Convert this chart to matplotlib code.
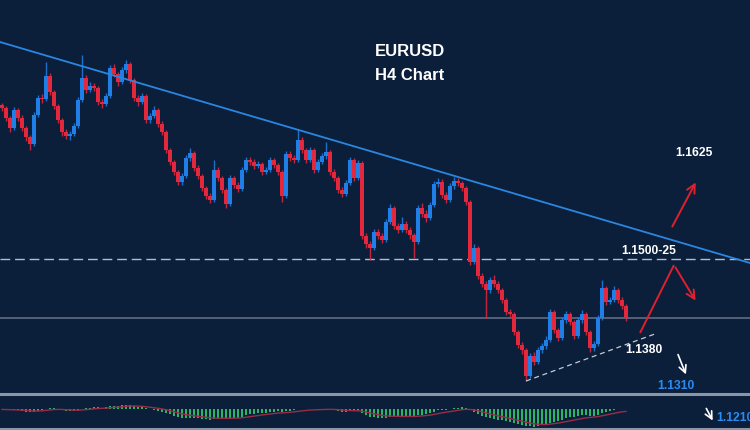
import numpy as np
import pandas as pd
import matplotlib
matplotlib.use("Agg")
import matplotlib.pyplot as plt
from matplotlib.lines import Line2D

# EURUSD H4 candles, prices in pips (x 1e-4)
close_pips = [11802, 11782, 11762, 11798, 11782, 11762, 11744, 11730, 11788, 11822,
              11820, 11866, 11834, 11806, 11778, 11754, 11746, 11750, 11766, 11818,
              11862, 11838, 11846, 11842, 11814, 11810, 11826, 11882, 11870, 11854,
              11878, 11890, 11858, 11822, 11814, 11826, 11778, 11786, 11798, 11770,
              11754, 11718, 11694, 11674, 11654, 11666, 11702, 11712, 11682, 11666,
              11642, 11626, 11618, 11678, 11662, 11638, 11610, 11662, 11648, 11640,
              11678, 11698, 11694, 11686, 11690, 11674, 11678, 11698, 11688, 11674,
              11626, 11710, 11702, 11698, 11738, 11718, 11698, 11718, 11678, 11694,
              11706, 11714, 11674, 11662, 11638, 11630, 11652, 11698, 11662, 11692,
              11546, 11530, 11522, 11554, 11546, 11538, 11574, 11602, 11566, 11558,
              11570, 11558, 11548, 11534, 11602, 11590, 11582, 11608, 11650, 11654,
              11628, 11618, 11646, 11656, 11652, 11642, 11614, 11494, 11522, 11466,
              11450, 11438, 11458, 11450, 11438, 11418, 11394, 11390, 11354, 11328,
              11318, 11266, 11306, 11294, 11318, 11326, 11338, 11394, 11358, 11342,
              11378, 11390, 11374, 11346, 11378, 11390, 11354, 11322, 11330, 11382,
              11442, 11414, 11418, 11438, 11418, 11406, 11382]
high_pips = [11812, 11806, 11786, 11804, 11802, 11788, 11766, 11748, 11794, 11828,
             11830, 11894, 11872, 11838, 11810, 11782, 11760, 11756, 11772, 11824,
             11908, 11868, 11854, 11852, 11846, 11820, 11832, 11888, 11890, 11874,
             11884, 11898, 11894, 11862, 11828, 11832, 11830, 11792, 11806, 11802,
             11776, 11758, 11722, 11698, 11678, 11672, 11708, 11722, 11716, 11688,
             11670, 11646, 11632, 11698, 11684, 11666, 11642, 11668, 11666, 11654,
             11684, 11704, 11704, 11700, 11696, 11694, 11684, 11704, 11702, 11692,
             11678, 11716, 11716, 11708, 11758, 11744, 11722, 11724, 11722, 11700,
             11712, 11734, 11718, 11680, 11666, 11644, 11658, 11704, 11702, 11698,
             11696, 11552, 11536, 11560, 11560, 11552, 11580, 11610, 11606, 11572,
             11584, 11576, 11564, 11552, 11608, 11612, 11598, 11614, 11656, 11662,
             11660, 11634, 11652, 11664, 11662, 11656, 11646, 11618, 11530, 11526,
             11472, 11456, 11464, 11468, 11456, 11442, 11422, 11400, 11394, 11358,
             11334, 11322, 11312, 11314, 11324, 11332, 11346, 11400, 11398, 11362,
             11384, 11396, 11394, 11378, 11384, 11398, 11394, 11358, 11336, 11388,
             11458, 11446, 11424, 11446, 11442, 11424, 11410]
low_pips = [11796, 11776, 11754, 11758, 11776, 11756, 11736, 11718, 11726, 11784,
            11812, 11816, 11828, 11800, 11772, 11746, 11740, 11738, 11746, 11762,
            11814, 11832, 11834, 11836, 11808, 11802, 11806, 11822, 11864, 11846,
            11850, 11872, 11852, 11816, 11806, 11810, 11772, 11772, 11782, 11764,
            11748, 11712, 11688, 11668, 11648, 11648, 11662, 11696, 11676, 11660,
            11636, 11620, 11612, 11614, 11656, 11632, 11602, 11606, 11642, 11634,
            11636, 11674, 11688, 11680, 11682, 11668, 11670, 11674, 11682, 11668,
            11614, 11622, 11696, 11692, 11694, 11712, 11692, 11694, 11672, 11674,
            11690, 11700, 11668, 11656, 11632, 11624, 11626, 11648, 11656, 11658,
            11540, 11522, 11498, 11518, 11540, 11532, 11534, 11570, 11560, 11552,
            11554, 11552, 11540, 11502, 11530, 11584, 11574, 11578, 11604, 11644,
            11622, 11612, 11614, 11640, 11646, 11636, 11608, 11488, 11490, 11460,
            11444, 11382, 11432, 11444, 11432, 11412, 11388, 11384, 11348, 11322,
            11310, 11256, 11262, 11288, 11290, 11312, 11320, 11334, 11352, 11336,
            11338, 11372, 11368, 11340, 11342, 11372, 11348, 11314, 11316, 11326,
            11378, 11408, 11410, 11414, 11412, 11400, 11376]
first_open_pips = 11808

# chart drawings (candle index, price)
resistance = ([-0.5, 187.0], [1.1934, 1.1492])
support = ([131.0, 163.2], [1.1256, 1.1350])
zone_level = 1.1500
last_level = 1.1382

BG = "#0b1f3b"
UP = "#1f7fe6"
DOWN = "#e3283d"
ARROW_RED = "#e0202c"
LABEL_BLUE = "#2a8cf2"

close = np.array(close_pips) / 1e4
high = np.array(high_pips) / 1e4
low = np.array(low_pips) / 1e4
open_ = np.concatenate([[first_open_pips / 1e4], close[:-1]])
idx = np.arange(len(close))

fig = plt.figure(figsize=(7.5, 4.3), dpi=100, facecolor=BG)
ax = fig.add_axes([0, 38 / 430, 1, 392 / 430])
axm = fig.add_axes([0, 3 / 430, 1, 32 / 430], sharex=ax)
for a in (ax, axm):
    a.set_facecolor(BG)
    a.axis("off")
ax.set_xlim(-0.5, 187)
ax.set_ylim(1.1234, 1.2018)

# level lines
ax.axhline(zone_level, color="#b4bccb", lw=1.0, dashes=(7, 3.5), zorder=1)
ax.axhline(last_level, color="#5f6d82", lw=1.2, zorder=1)

# candles
colors = np.where(close >= open_, UP, DOWN)
ax.vlines(idx, low, high, color=colors, lw=1.0, alpha=0.85, zorder=2)
body = np.maximum(np.abs(close - open_), 0.00012)
ax.bar(idx, body, bottom=np.minimum(open_, close), width=0.8,
       color=colors, lw=0, zorder=3)

# trend lines
ax.plot(*resistance, color="#2a86e0", lw=1.3, zorder=4)
ax.plot(*support, color="#c3cad6", lw=0.9, dashes=(4, 3), zorder=4)

# title
tfont = dict(color="white", fontweight="bold", family=["Liberation Sans", "DejaVu Sans"])
ax.text(93.25, 1.1914, "EURUSD", fontsize=12, va="center", **tfont)
ax.text(93.25, 1.1868, "H4 Chart", fontsize=12, va="center", **tfont)

# level labels
ax.text(168.25, 1.1712, "1.1625", fontsize=8.7, va="center", **tfont)
ax.text(154.75, 1.1516, "1.1500-25", fontsize=8.7, va="center", **tfont)
ax.text(155.75, 1.1318, "1.1380", fontsize=8.7, va="center", **tfont)
bfont = dict(tfont, color=LABEL_BLUE)
ax.text(163.75, 1.1246, "1.1310", fontsize=8.7, va="center", **bfont)
ax.text(178.5, 1.1182, "1.1210", fontsize=8.7, va="center", clip_on=False, **bfont)

# scenario arrows
red_arrow = dict(arrowstyle="->", color=ARROW_RED, lw=1.4, mutation_scale=15)
ax.annotate("", xy=(173.75, 1.1658), xytext=(167.25, 1.1560), arrowprops=red_arrow)
ax.plot([159.5, 168.0], [1.1352, 1.1488], color=ARROW_RED, lw=1.4, solid_capstyle="butt")
ax.annotate("", xy=(173.75, 1.1412), xytext=(168.0, 1.1488), arrowprops=red_arrow)
white_arrow = dict(arrowstyle="->", color="white", lw=1.2, mutation_scale=13)
ax.annotate("", xy=(171.25, 1.1264), xytext=(168.75, 1.1314), arrowprops=white_arrow)
ax.annotate("", xy=(178.0, 1.1172), xytext=(175.75, 1.1206), arrowprops=white_arrow,
            annotation_clip=False)

# MACD panel
s = pd.Series(close)
macd = s.ewm(span=12, adjust=False).mean() - s.ewm(span=26, adjust=False).mean()
signal = macd.ewm(span=9, adjust=False).mean()
axm.bar(idx, macd, width=0.65, color="#2bb566", lw=0)
axm.plot(idx, signal, color="#9a2c45", lw=1.0)
lim = np.abs(macd).max() * 1.02
axm.set_ylim(-lim, lim * 14 / 17)

# panel separators
for ypx in (393.5, 428.5):
    fig.add_artist(Line2D([0, 1], [1 - ypx / 430] * 2, transform=fig.transFigure,
                          color="#8a96a8", lw=2.2))

fig.savefig("out.png", dpi=100, facecolor=BG)
